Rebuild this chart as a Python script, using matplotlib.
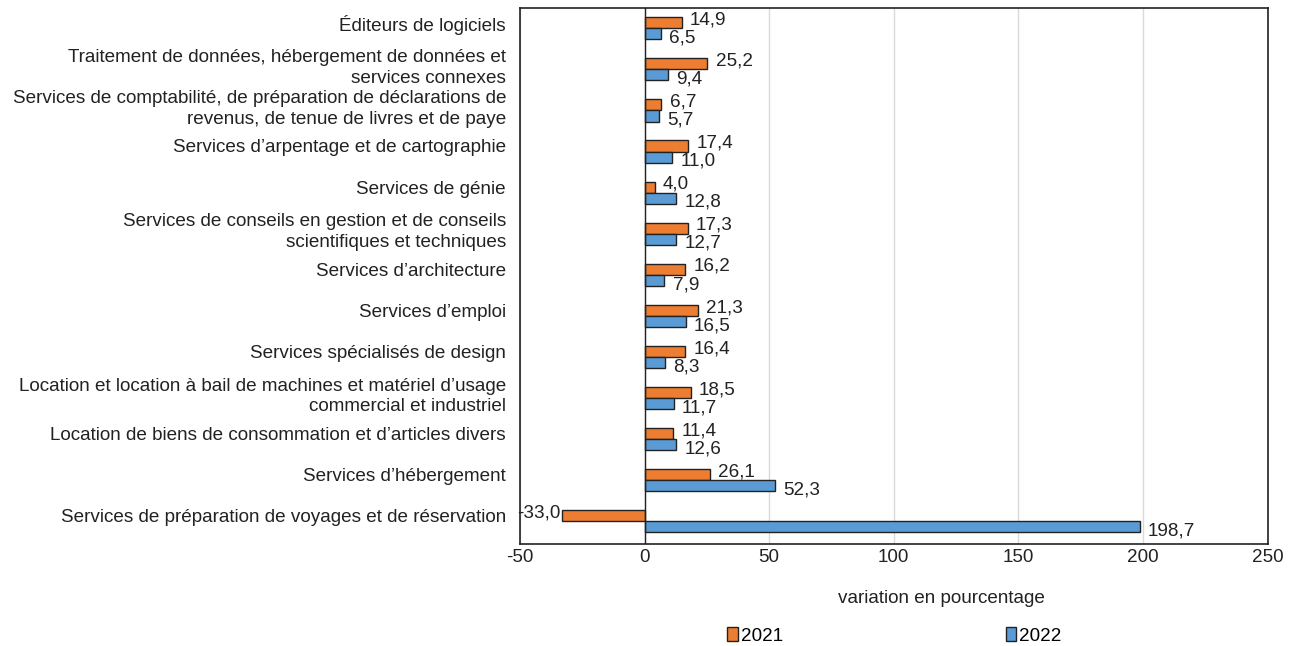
import numpy as np
import matplotlib
matplotlib.use('Agg')
import matplotlib.pyplot as plt
import matplotlib.transforms as mtransforms

# ── data ──────────────────────────────────────────────────────────────────────
categories = [
    "Éditeurs de logiciels",
    "Traitement de données, hébergement de données et\nservices connexes",
    "Services de comptabilité, de préparation de déclarations de\nrevenus, de tenue de livres et de paye",
    "Services d’arpentage et de cartographie",
    "Services de génie",
    "Services de conseils en gestion et de conseils\nscientifiques et techniques",
    "Services d’architecture",
    "Services d’emploi",
    "Services spécialisés de design",
    "Location et location à bail de machines et matériel d’usage\ncommercial et industriel",
    "Location de biens de consommation et d’articles divers",
    "Services d’hébergement",
    "Services de préparation de voyages et de réservation",
]
v2021 = [14.9, 25.2, 6.7, 17.4, 4.0, 17.3, 16.2, 21.3, 16.4, 18.5, 11.4, 26.1, -33.0]
v2022 = [6.5, 9.4, 5.7, 11.0, 12.8, 12.7, 7.9, 16.5, 8.3, 11.7, 12.6, 52.3, 198.7]
xticks = [-50, 0, 50, 100, 150, 200, 250]

C21 = '#ED7D31'
C22 = '#5B9BD5'
TXT = '#222222'
FS = 13.6

plt.rcParams['font.family'] = ['Liberation Sans', 'DejaVu Sans']
plt.rcParams['font.size'] = FS

fig = plt.figure(figsize=(13, 6.46), dpi=100)
ax = fig.add_axes([0.4, 0.158, 0.575, 0.83])

y = np.arange(len(categories))
h = 0.27
b1 = ax.barh(y - h / 2, v2021, height=h, color=C21, edgecolor=TXT, lw=1, label='2021', zorder=3)
b2 = ax.barh(y + h / 2, v2022, height=h, color=C22, edgecolor=TXT, lw=1, label='2022', zorder=3)

def fmt(v):
    return f"{v:.1f}".replace('.', ',')

# orange labels sit a little high, blue ones a little low, as in the source
for bars, vals, dy in ((b1, v2021, 2), (b2, v2022, -3)):
    for bar, v in zip(bars, vals):
        yc = bar.get_y() + bar.get_height() / 2
        if v >= 0:
            ax.annotate(fmt(v), (v, yc), xytext=(6, dy), textcoords='offset points',
                        ha='left', va='center', fontsize=FS, color=TXT)
        else:
            ax.annotate(fmt(v), (v, yc), xytext=(-1, dy), textcoords='offset points',
                        ha='right', va='center', fontsize=FS, color=TXT)

ax.set_xlim(-50, 250)
ax.set_ylim(len(categories) - 0.45, -0.5)
ax.set_xticks(xticks)
ax.set_xticklabels([str(t) for t in xticks], fontsize=FS, color=TXT)
ax.set_yticks(y)
ax.set_yticklabels(categories, fontsize=FS, color=TXT, linespacing=1.3)
ax.tick_params(axis='y', length=0, pad=10)
ax.tick_params(axis='x', length=0, pad=4)

# category labels sit slightly above the bar pair centre
shift = mtransforms.ScaledTranslation(0, 4 / 72, fig.dpi_scale_trans)
for lbl in ax.get_yticklabels():
    lbl.set_transform(lbl.get_transform() + shift)

ax.xaxis.grid(True, color='#d9d9d9', lw=1, zorder=0)
ax.axvline(0, color=TXT, lw=1, zorder=4)
for sp in ax.spines.values():
    sp.set_color(TXT)
    sp.set_linewidth(1.2)

ax.set_xlabel('variation en pourcentage', fontsize=FS, color=TXT)
ax.xaxis.set_label_coords(0.564, -0.085)

fig.legend(handles=[b1, b2], loc='center', bbox_to_anchor=(0.688, 0.016), ncol=2,
           frameon=False, handlelength=0.55, handleheight=0.8, handletextpad=0.15,
           columnspacing=11.8, fontsize=FS)

plt.savefig('out.png', dpi=100, facecolor='white')
